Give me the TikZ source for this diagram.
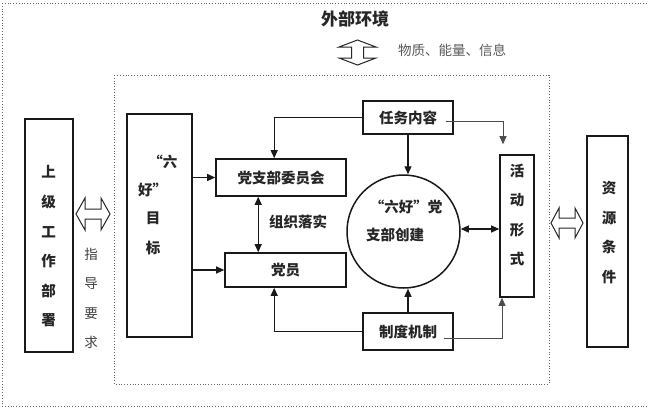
\documentclass[tikz,border=0pt]{standalone}
\usepackage{fontspec}
\setmainfont{Noto Sans CJK SC}
\usetikzlibrary{arrows.meta,positioning}
\begin{document}
\begin{tikzpicture}[x=1pt,y=-1pt,
  frame/.style={draw=black!60,line width=0.8pt,dotted},
  box/.style={draw=black!90,line width=1.6pt,inner sep=0pt,rectangle,font=\bfseries\fontsize{14.5}{16}\selectfont,text=black!85},
  vtext/.style={font=\bfseries\fontsize{14.5}{29.6}\selectfont,align=center,text=black!85,inner sep=0pt},
  gtext/.style={font=\fontsize{13.5}{29.3}\selectfont,align=center,text=black!75,inner sep=0pt},
  arr/.style={draw=black!90,line width=1.1pt,-{Triangle[length=8pt,width=7pt]}},
  arrb/.style={draw=black!90,line width=1.1pt,{Triangle[length=8pt,width=7pt]}-{Triangle[length=8pt,width=7pt]}},
  thin/.style={draw=black!70,line width=0.7pt,-{Triangle[length=8pt,width=7pt]}},
  hollow/.style={draw=black!85,line width=1pt,fill=white,line join=miter}
]
\useasboundingbox (0,0) rectangle (648,408);
\fill[white] (0,0) rectangle (648,408);
% frames
\draw[frame] (2,3) rectangle (662,406);
\draw[frame] (114,75) rectangle (549,384);
% title
\node[font=\bfseries\fontsize{17}{19}\selectfont,text=black!85] (title) at (355,19) {外部环境};
\node[font=\fontsize{13.5}{16}\selectfont,text=black!65] (wz) at (452,50) {物质、能量、信息};
% vertical hollow arrow
\draw[hollow] (357.5,40) -- (376,47) -- (363.5,47) -- (363.5,58) -- (376,58) -- (357.5,65)
  -- (339,58) -- (351.5,58) -- (351.5,47) -- (339,47) -- cycle;
% boxes
\node[box,minimum width=48pt,minimum height=233pt] (sj) at (49,235.5) {};
\node[vtext] (sjt) at (48.5,246.5) {上\\级\\工\\作\\部\\署};
\node[gtext] (zdyq) at (91,298.5) {指\\导\\要\\求};
\draw[hollow] (76,214) -- (85,198) -- (85,209) -- (101,209) -- (101,198) -- (110,214)
  -- (101,230) -- (101,219) -- (85,219) -- (85,230) -- cycle;

\node[box,minimum width=65pt,minimum height=223pt] (lh) at (159.5,225.5) {};
\node[vtext,anchor=east] (lh1) at (177.5,162) {“六};
\node[vtext,anchor=west] (lh2) at (138,190) {好”};
\node[vtext] (lh3) at (153,218) {目};
\node[vtext] (lh4) at (153,248) {标};

\node[box,minimum width=130pt,minimum height=37pt] (wyh) at (281,177.5) {党支部委员会};
\node[box,minimum width=121pt,minimum height=34pt] (dy) at (285.5,270) {党员};
\node[box,minimum width=90pt,minimum height=33pt] (rw) at (408,117.5) {任务内容};
\node[box,minimum width=90pt,minimum height=37pt] (zd) at (408,331.5) {制度机制};
\node[draw=black!90,line width=1.5pt,circle,minimum size=113pt,inner sep=0pt] (circ) at (403.5,231.5) {};
\node[vtext] (c1) at (406,207) {“六好”党};
\node[vtext] (c2) at (395,235) {支部创建};

\node[box,minimum width=34pt,minimum height=142pt] (hd) at (517,226) {};
\node[vtext] (hdt) at (517,215) {活\\动\\形\\式};
\node[box,minimum width=41pt,minimum height=211pt] (zy) at (607.5,241.5) {};
\node[vtext] (zyt) at (609,232.5) {资\\源\\条\\件};
\draw[hollow] (551,223) -- (559,208) -- (559,218) -- (575,218) -- (575,208) -- (583,223)
  -- (575,238) -- (575,228) -- (559,228) -- (559,238) -- cycle;

% connectors
\draw[arr] (lh.east |- wyh.west) -- (wyh.west);
\draw[arr] (lh.east |- dy.west) -- (dy.west);
\draw[arrb] ([xshift=43pt]wyh.south west) -- ([xshift=34pt]dy.north west);
\node[font=\bfseries\fontsize{14.5}{16}\selectfont,text=black!85] (zzls) at (298,222) {组织落实};
\draw[arr] (rw.west) -| ([xshift=59pt]wyh.north west);
\draw[arr] (zd.west) -| ([xshift=50pt]dy.south west);
\draw[arr] (rw.south) -- (rw.south |- circ.north);
\draw[arr] (zd.north) -- (zd.north |- circ.south);
\draw[arrb] (circ.east |- 0,229) -- (hd.west |- 0,229);
\coordinate (rwo) at ([xshift=-8pt,yshift=-3.5pt]rw.east);
\coordinate (hdin) at ([xshift=-14pt,yshift=10pt]hd.north);
\draw[thin] (rwo) -| (hdin);
\coordinate (zdo) at ([xshift=-10pt,yshift=-6.5pt]zd.east);
\draw[thin] (zdo) -| ([xshift=-15pt]hd.south);
\end{tikzpicture}
\end{document}
